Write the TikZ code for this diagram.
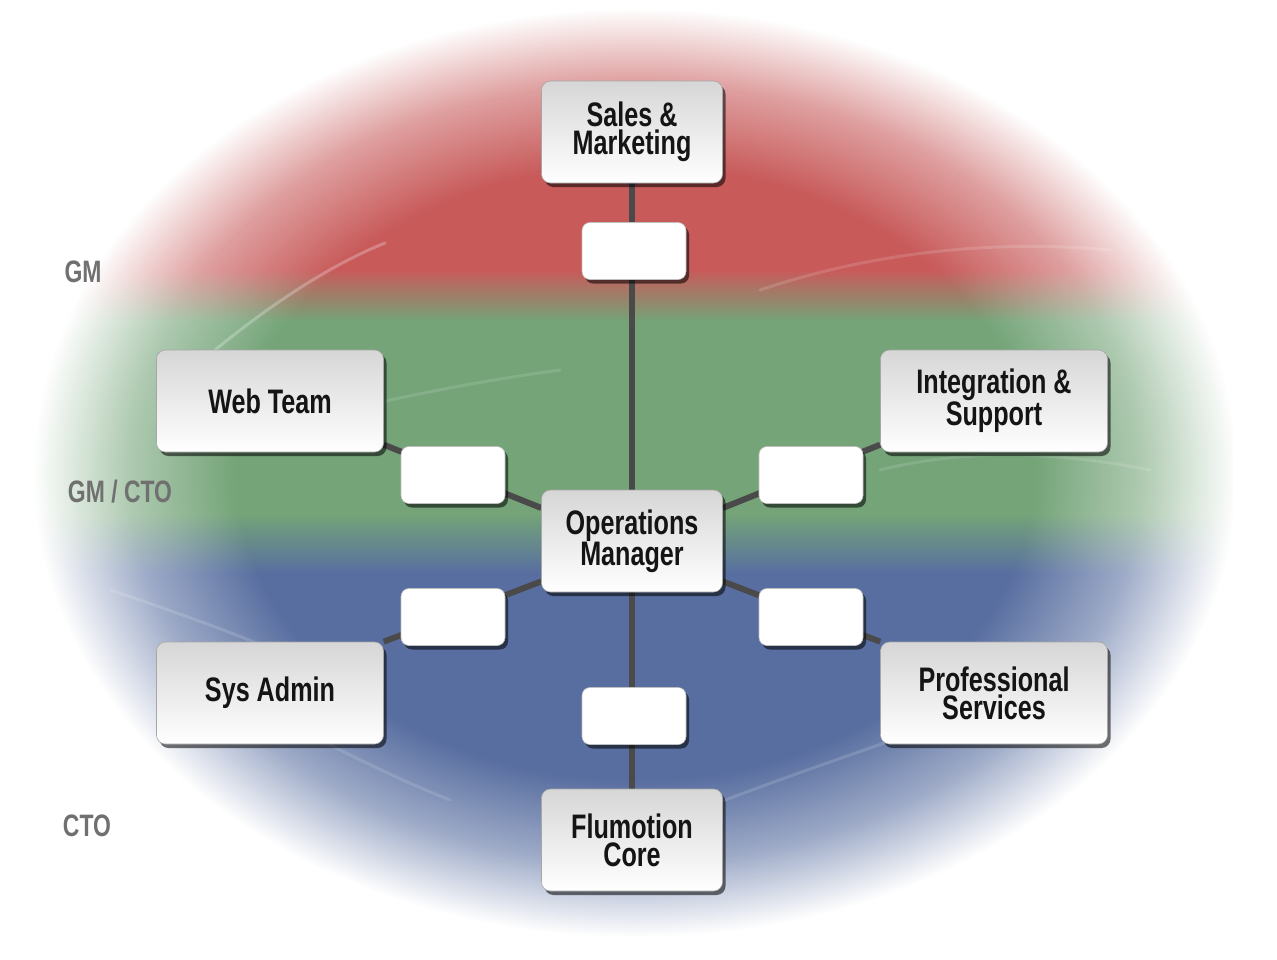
\documentclass[tikz,border=0pt]{standalone}
\usepackage{fontspec}
\setmainfont{Liberation Sans}[FakeStretch=0.74]
\usetikzlibrary{shadows,fadings}
\definecolor{bandred}{RGB}{200,90,90}
\definecolor{bandgreen}{RGB}{116,164,120}
\definecolor{bandblue}{RGB}{88,110,160}
\definecolor{connc}{RGB}{74,74,74}
\definecolor{lblgray}{RGB}{112,112,112}
% bands mapped onto path (35,10)-(1235,935): bp = 75 - (y-10)*50/925
\pgfdeclareverticalshading{bands}{100bp}{color(0bp)=(bandblue); color(44.6bp)=(bandblue);
  color(47.8bp)=(bandgreen); color(58.2bp)=(bandgreen); color(61.0bp)=(bandred); color(100bp)=(bandred)}
\pgfdeclareradialshading{ellfadeshade}{\pgfpointorigin}{color(0bp)=(pgftransparent!0);
  color(16.5bp)=(pgftransparent!0); color(21bp)=(pgftransparent!42); color(25bp)=(pgftransparent!100);
  color(50bp)=(pgftransparent!100)}
\pgfdeclarefading{ellfade}{\pgfuseshading{ellfadeshade}}
\pgfdeclarelayer{bg}
\pgfdeclarelayer{lines}
\pgfsetlayers{bg,lines,main}
\begin{document}
\begin{tikzpicture}[x=1pt,y=-1pt,
  boxbase/.style={draw=black!35, line width=0.6pt, rounded corners=9pt,
    top color=black!16, bottom color=white, align=center, inner sep=2pt,
    text=black!92, font=\fontsize{34}{28}\selectfont\bfseries,
    drop shadow={shadow xshift=3pt, shadow yshift=-4pt, opacity=0.55, fill=black}},
  bigbox/.style={boxbase, minimum width=181pt, minimum height=102pt},
  sidebox/.style={boxbase, minimum width=227pt, minimum height=102pt},
  smallbox/.style={draw=black!25, line width=0.6pt, rounded corners=8pt, fill=white,
    minimum width=104pt, minimum height=57pt,
    drop shadow={shadow xshift=3pt, shadow yshift=-4pt, opacity=0.55, fill=black}},
  lbl/.style={text=lblgray, font=\fontsize{31}{31}\selectfont\bfseries},
  streak/.style={white, opacity=0.2, line width=3pt, line cap=round},
  conn/.style={draw=connc, line width=6pt}]
\useasboundingbox (0,0) rectangle (1277,959);
\begin{pgfonlayer}{bg}
  \fill[white] (0,0) rectangle (1277,959);
  \shade[shading=bands, path fading=ellfade, fit fading=true] (35,10) rectangle (1235,935);
  % faint light streaks
  \draw[streak, opacity=0.25] (215,350) .. controls (270,305) and (330,265) .. (385,243);
  \draw[streak, opacity=0.12] (560,370) .. controls (450,385) and (330,410) .. (200,450);
  \draw[streak, opacity=0.14] (760,290) .. controls (880,250) and (1000,240) .. (1110,250);
  \draw[streak, opacity=0.12] (880,470) .. controls (960,450) and (1050,450) .. (1150,470);
  \draw[streak, opacity=0.14] (700,810) .. controls (800,770) and (900,740) .. (1000,700);
  \draw[streak, opacity=0.14] (110,590) .. controls (200,620) and (280,650) .. (340,680);
  \draw[streak, opacity=0.12] (320,740) .. controls (360,760) and (400,780) .. (450,800);
\end{pgfonlayer}

\node[lbl] (gm) at (83,272) {GM};
\node[lbl] (gmcto) at (120,492) {GM / CTO};
\node[lbl] (cto) at (87,826) {CTO};

\node[bigbox] (sales) at (632,132) {Sales \&\\Marketing};
\node[sidebox] (web) at (270,401) {Web Team};
\node[sidebox] (integ) at (994,401) {Integration \&\\Support};
\node[bigbox] (ops) at (632,541) {Operations\\Manager};
\node[sidebox] (sys) at (270,693) {Sys Admin};
\node[sidebox] (prof) at (994,693) {Professional\\Services};
\node[bigbox] (core) at (632,840) {Flumotion\\Core};

\node[smallbox] (s1) at (634,251) {};
\node[smallbox] (s2) at (453,475) {};
\node[smallbox] (s3) at (811,475) {};
\node[smallbox] (s4) at (453,617) {};
\node[smallbox] (s5) at (811,617) {};
\node[smallbox] (s6) at (634,716) {};

\begin{pgfonlayer}{lines}
  \draw[conn] (sales.south) -- (core.north);
  \draw[conn] (web.-21) -- (ops.160);
  \draw[conn] (integ.201) -- (ops.20);
  \draw[conn] (sys.north east) -- (ops.204);
  \draw[conn] (prof.north west) -- (ops.-24);
\end{pgfonlayer}
\end{tikzpicture}
\end{document}
